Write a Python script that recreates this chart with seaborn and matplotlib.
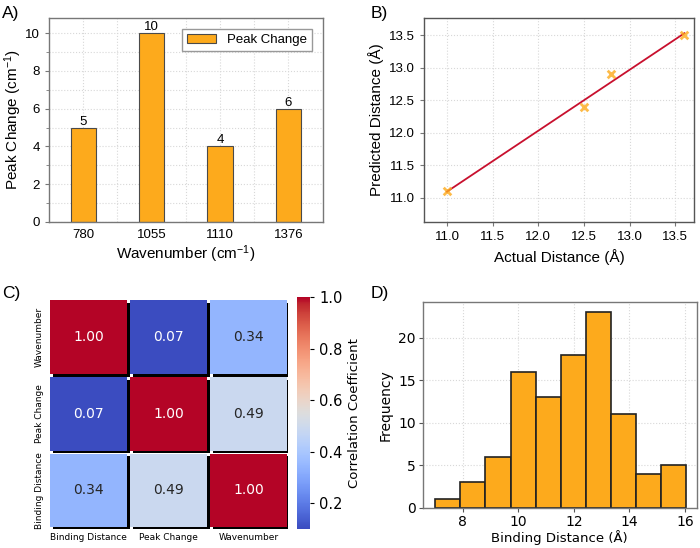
import numpy as np
import pandas as pd
import seaborn as sns
import matplotlib.pyplot as plt
import matplotlib.patheffects as pe
from matplotlib.patches import Rectangle
from matplotlib.ticker import MultipleLocator, FixedLocator

# A) zmiana pików
wavenumbers = ["780", "1055", "1110", "1376"]
peak_change = [5, 10, 4, 6]

# B) odległość rzeczywista vs przewidywana
actual_dist = [11.0, 12.5, 12.8, 13.6]
predicted_dist = [11.1, 12.4, 12.9, 13.5]

# C) macierz korelacji (wiersze od góry)
corr_rows = ["Wavenumber", "Peak Change", "Binding Distance"]
corr_cols = ["Binding Distance", "Peak Change", "Wavenumber"]
corr_values = [[1.00, 0.07, 0.34],
               [0.07, 1.00, 0.49],
               [0.34, 0.49, 1.00]]

# D) histogram odległości wiązania
bin_edges = [7.0, 7.9, 8.81, 9.72, 10.62, 11.53, 12.43, 13.33, 14.23, 15.14, 16.04]
bin_counts = [1, 3, 6, 16, 13, 18, 23, 11, 4, 5]

ORANGE = "#FDAA1C"
ARIAL = "Liberation Sans"
plt.rcParams["mathtext.default"] = "regular"
plt.rcParams["font.family"] = "DejaVu Sans"

fig = plt.figure(figsize=(7, 5.48), dpi=100)


def frame(ax, color="#777777"):
    for s in ax.spines.values():
        s.set_color(color)
        s.set_linewidth(1.0)
    ax.set_axisbelow(True)


# --- A) wykres słupkowy
axA = fig.add_axes([0.070, 0.595, 0.391, 0.372])
sns.barplot(x=wavenumbers, y=peak_change, ax=axA, color=ORANGE, saturation=1,
            width=0.37, edgecolor="#4a4a4a", linewidth=0.8, label="Peak Change")
axA.bar_label(axA.containers[0], fontsize=9.5, padding=0, fontfamily=ARIAL)
axA.set_xlim(-0.5, 3.5)
axA.set_ylim(0, 10.8)
axA.yaxis.set_major_locator(MultipleLocator(2))
axA.yaxis.set_minor_locator(MultipleLocator(1))
axA.xaxis.set_minor_locator(FixedLocator([0.5, 1.5, 2.5]))
axA.grid(which="both", linestyle=":", color="#d8d8d8", linewidth=0.8)
axA.tick_params(axis="x", which="both", length=0, pad=5)
axA.tick_params(axis="y", which="major", length=3)
axA.tick_params(axis="y", which="minor", length=2)
axA.tick_params(which="both", labelsize=9.5, labelfontfamily=ARIAL, color="#777777")
axA.set_xlabel("Wavenumber (cm$^{-1}$)", fontsize=11, fontfamily=ARIAL, labelpad=2)
axA.set_ylabel("Peak Change (cm$^{-1}$)", fontsize=11, fontfamily=ARIAL, labelpad=1)
axA.legend(loc="upper right", fancybox=False, edgecolor="#999999", framealpha=1,
           prop={"family": ARIAL, "size": 9.5}, borderaxespad=0.8, handlelength=2.2)
frame(axA)

# --- B) regresja
axB = fig.add_axes([0.606, 0.595, 0.386, 0.372])
sns.regplot(x=actual_dist, y=predicted_dist, ax=axB, ci=None, marker="x",
            scatter_kws={"color": ORANGE, "s": 30, "linewidths": 2.0, "zorder": 3},
            line_kws={"color": "#C8102E", "linewidth": 1.3, "zorder": 2})
axB.set_xlim(10.75, 13.71)
axB.set_ylim(10.63, 13.76)
axB.xaxis.set_major_locator(MultipleLocator(0.5))
axB.yaxis.set_major_locator(MultipleLocator(0.5))
axB.grid(linestyle=":", color="#d8d8d8", linewidth=0.8)
axB.tick_params(length=3, labelsize=9.5, labelfontfamily=ARIAL, color="#777777")
axB.set_xlabel("Actual Distance (Å)", fontsize=11, fontfamily=ARIAL)
axB.set_ylabel("Predicted Distance (Å)", fontsize=11, fontfamily=ARIAL)
frame(axB, "#555555")

# --- C) heatmapa korelacji
df_corr = pd.DataFrame(corr_values, index=corr_rows, columns=corr_cols)
axC = fig.add_axes([0.069, 0.035, 0.343, 0.420])
cax = fig.add_axes([0.424, 0.035, 0.019, 0.423])
sns.heatmap(df_corr, ax=axC, cbar_ax=cax, cmap="coolwarm", vmin=0.1, vmax=1.0,
            annot=True, fmt=".2f", annot_kws={"size": 10},
            cbar_kws={"label": "Correlation Coefficient"})
mesh = axC.collections[0]
mesh.update_scalarmappable()
cell_colors = mesh.get_facecolors()
mesh.set_visible(False)
# komórki z cieniem
g = 0.02
n_r, n_c = df_corr.shape
for i in range(n_r):
    for j in range(n_c):
        axC.add_patch(Rectangle((j + g, i + g), 1 - 2 * g, 1 - 2 * g,
                                facecolor=cell_colors[i * n_c + j], edgecolor="none", zorder=1.5,
                                path_effects=[pe.withSimplePatchShadow(offset=(2.0, -2.0),
                                                                      shadow_rgbFace="black", alpha=1.0)]))
axC.tick_params(length=0, labelsize=6.5, pad=3)
axC.set_xticklabels(axC.get_xticklabels(), rotation=0)
axC.set_yticklabels(axC.get_yticklabels(), rotation=90, va="center")
axC.set_xlabel("")
axC.set_ylabel("")
cax.tick_params(labelsize=10.5, length=3)
cax.set_ylabel("Correlation Coefficient", fontsize=9.5)

# --- D) histogram
bin_centers = [(a + b) / 2 for a, b in zip(bin_edges[:-1], bin_edges[1:])]
axD = fig.add_axes([0.604, 0.073, 0.391, 0.376])
sns.histplot(x=bin_centers, weights=bin_counts, bins=bin_edges, ax=axD,
             color=ORANGE, alpha=1, edgecolor="#222222", linewidth=1.2)
axD.set_xlim(6.56, 16.42)
axD.set_ylim(0, 24.2)
axD.xaxis.set_major_locator(MultipleLocator(2))
axD.yaxis.set_major_locator(MultipleLocator(5))
axD.grid(linestyle=":", color="#d8d8d8", linewidth=0.8)
axD.tick_params(length=3, pad=2, labelsize=10, color="#555555")
axD.set_xlabel("Binding Distance (Å)", fontsize=9.5, labelpad=1)
axD.set_ylabel("Frequency", fontsize=10)
frame(axD)

# etykiety paneli
for txt, x, y in [("A)", 0.003, 0.975), ("B)", 0.530, 0.975), ("C)", 0.003, 0.465), ("D)", 0.530, 0.465)]:
    fig.text(x, y, txt, fontsize=12.5, fontfamily=ARIAL, va="center")

plt.savefig("out.png", dpi=100)
